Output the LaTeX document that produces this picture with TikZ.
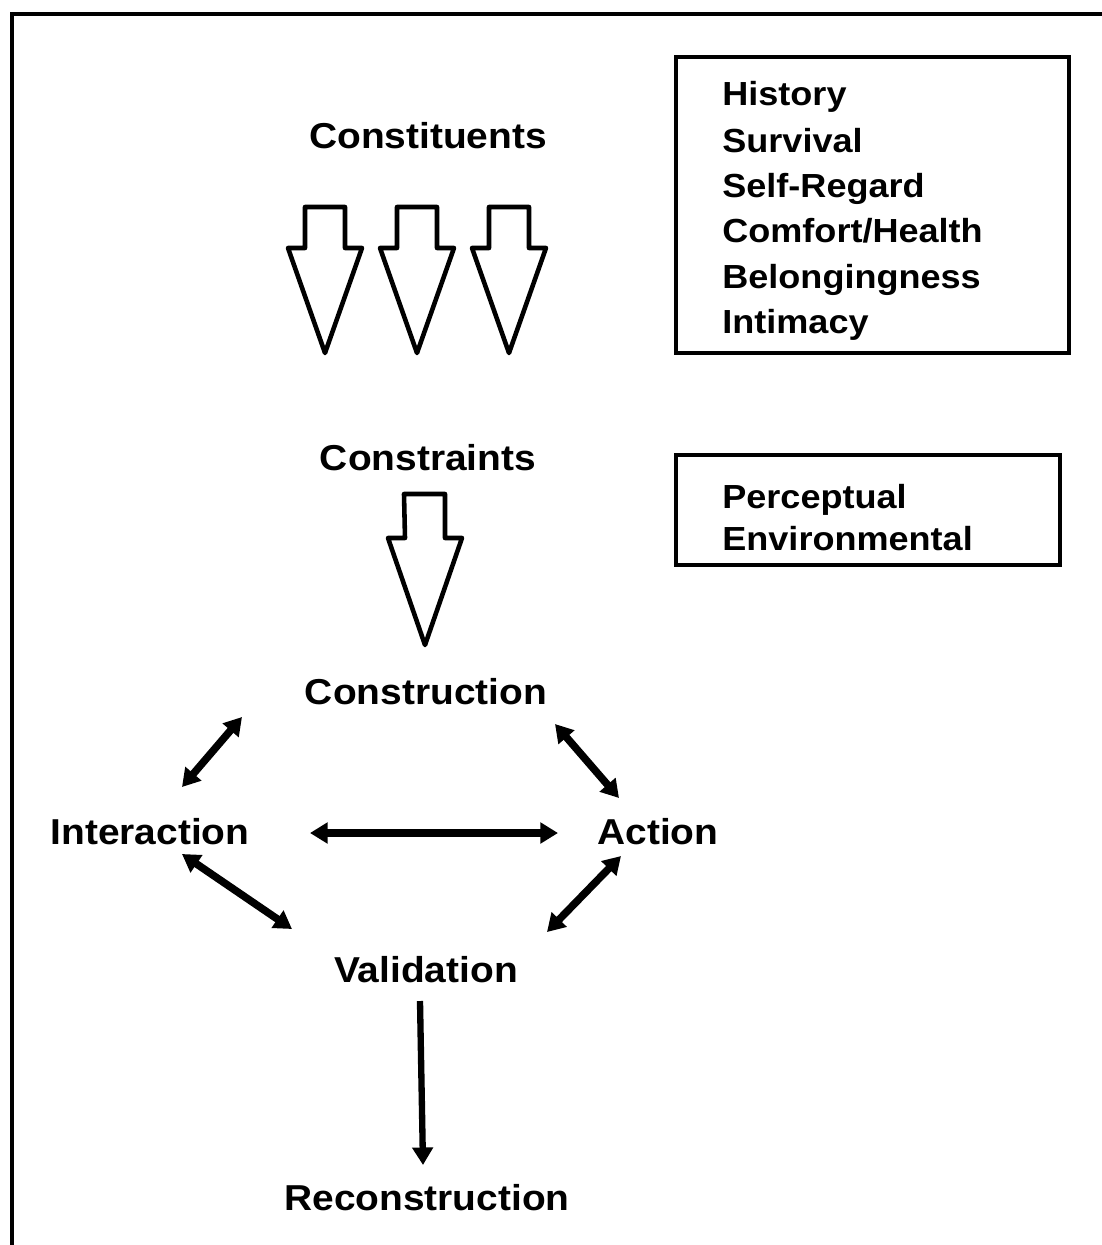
\documentclass[tikz,border=0pt]{standalone}
\usepackage{fontspec}
\setmainfont{Liberation Sans}[FakeStretch=1.08]
\usetikzlibrary{arrows.meta}

\begin{document}
\begin{tikzpicture}[x=0.02cm,y=-0.02cm,
  term/.style={font=\fontsize{20.5}{24}\selectfont\bfseries, anchor=base, inner sep=0pt},
  item/.style={font=\fontsize{19}{22}\selectfont\bfseries, anchor=base west, inner sep=0pt},
  box/.style={line width=2.2pt},
  hollow/.style={line width=2.6pt, line join=round},
  link/.style={line width=4.3pt, {Triangle[length=10pt,width=11.5pt]}-{Triangle[length=10pt,width=11.5pt]}},
  lead/.style={line width=3.6pt, -{Triangle[length=10pt,width=11.5pt]}}]

\useasboundingbox (0,0) rectangle (1102,1245);

% frame
\draw[line width=2.4pt] (1102,14)--(12,14)--(12,1245);

% labels
\node[term] (constituents) at (428,148) {Constituents};
\node[term] (constraints) at (428,470) {Constraints};
\node[term] (construction) at (426,704) {Construction};
\node[term] (interaction) at (150,844) {Interaction};
\node[term] (action) at (658,844) {Action};
\node[term] (validation) at (426,982) {Validation};
\node[term] (reconstruction) at (427,1210) {Reconstruction};

% hollow arrows
{
\draw[hollow] (305,207)--++(40,0)--++(0,41)--++(17,0)--++(-37,105)--++(-37,-105)--++(17,0)--cycle;
\draw[hollow] (397,207)--++(40,0)--++(0,41)--++(17,0)--++(-37,105)--++(-37,-105)--++(17,0)--cycle;
\draw[hollow] (489,207)--++(40,0)--++(0,41)--++(17,0)--++(-37,105)--++(-37,-105)--++(17,0)--cycle;

\draw[hollow] (404,494)--++(41,0)--++(0,44)--++(17,0)--++(-37,107)--++(-37,-107)--++(17,0)--cycle;
}

% box of constituents
\draw[box] (676,57) rectangle (1069,353);
\node[item] (history) at (722,105) {History};
\node[item] (survival) at (722,152) {Survival};
\node[item] (selfregard) at (722,197) {Self-Regard};
\node[item] (comfort) at (722,242) {Comfort/Health};
\node[item] (belonging) at (722,288) {Belongingness};
\node[item] (intimacy) at (722,333) {Intimacy};

% box of constraints
\draw[box] (676,455) rectangle (1060,565);
\node[item] (perceptual) at (722,508) {Perceptual};
\node[item] (environmental) at (722,550) {Environmental};

% ends of the links
{
\coordinate (con-l) at (242,717);
\coordinate (con-r) at (555,724);
\coordinate (int-t) at (182,787);
\coordinate (int-r) at (310,833);
\coordinate (int-b) at (182,854);
\coordinate (act-t) at (619,798);
\coordinate (act-l) at (558,833);
\coordinate (act-b) at (621,856);
\coordinate (val-l) at (292,929);
\coordinate (val-r) at (547,932);
\coordinate (val-b) at (420,1001);
\coordinate (rec-t) at (423,1165);
}

\draw[link] (con-l)--(int-t);
\draw[link] (con-r)--(act-t);
\draw[link] (int-r)--(act-l);
\draw[link] (int-b)--(val-l);
\draw[link] (act-b)--(val-r);
\draw[lead] (val-b)--(rec-t);

\end{tikzpicture}
\end{document}
